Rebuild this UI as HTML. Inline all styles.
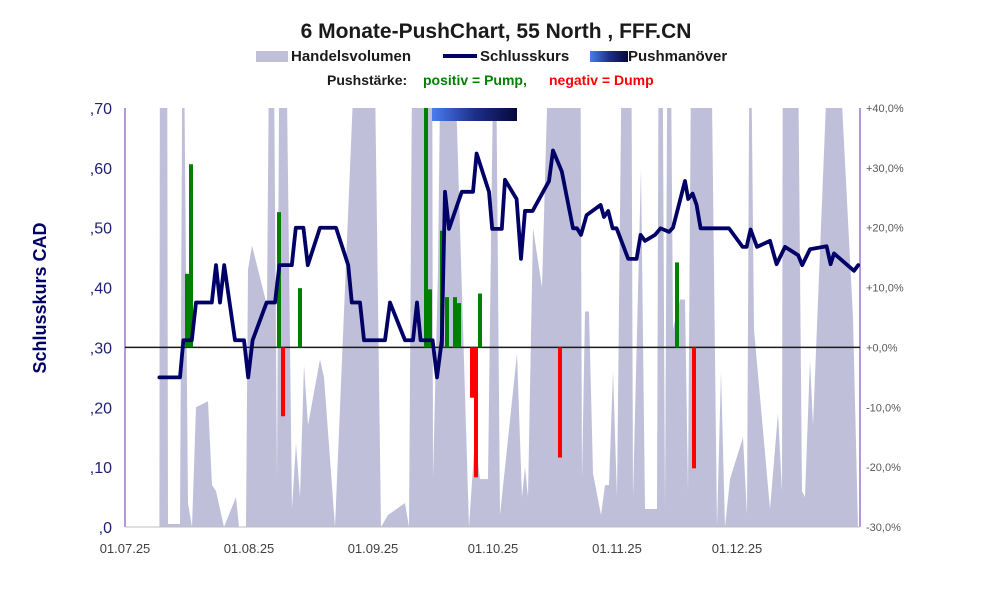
<!DOCTYPE html>
<html><head><meta charset="utf-8"><style>
body{margin:0;background:#fff;}
svg{display:block;font-family:"Liberation Sans",Arial,sans-serif;}
</style></head><body>
<svg id="chart" width="991" height="591" viewBox="0 0 991 591">
<defs>
<linearGradient id="pg" x1="0" x2="1" y1="0" y2="0"><stop offset="0" stop-color="#4a7cf0"/><stop offset="0.5" stop-color="#1e2f8a"/><stop offset="1" stop-color="#05083a"/></linearGradient>
<clipPath id="plotclip"><rect x="125" y="108" width="735" height="419"/></clipPath>
</defs>
<text x="496" y="38" text-anchor="middle" font-size="21" font-weight="bold" fill="#1a1a1a">6 Monate-PushChart, 55 North , FFF.CN</text>
<g>
<rect x="256" y="51" width="32" height="11" fill="#bfbfda"/>
<text x="291" y="61" font-size="15" font-weight="bold" fill="#1a1a1a">Handelsvolumen</text>
<rect x="443" y="54" width="34" height="4" fill="#000066"/>
<text x="480" y="61" font-size="15" font-weight="bold" fill="#1a1a1a">Schlusskurs</text>
<rect x="590" y="51" width="38" height="11" fill="url(#pg)"/>
<text x="628" y="61" font-size="15" font-weight="bold" fill="#1a1a1a">Pushmanöver</text>
<text x="327" y="85" font-size="14" font-weight="bold" fill="#1a1a1a">Pushstärke:</text>
<text x="423" y="85" font-size="14" font-weight="bold" fill="#008000">positiv = Pump,</text>
<text x="549" y="85" font-size="14" font-weight="bold" fill="#ff0000">negativ = Dump</text>
</g>
<text transform="translate(46,298) rotate(-90)" text-anchor="middle" font-size="18" font-weight="bold" fill="#000066">Schlusskurs CAD</text>
<g id="vol" clip-path="url(#plotclip)"></g>
<g id="axes"></g>
<g id="push"></g>
<g id="line" clip-path="url(#plotclip)"></g>
</svg>
<script>
const xTickLabels=["01.07.25","01.08.25","01.09.25","01.10.25","01.11.25","01.12.25"];
const xTickDays=[0,31,62,92,123,153];
const yTickValues=[0,0.1,0.2,0.3,0.4,0.5,0.6,0.7];
const yTickLabels=[",0",",10",",20",",30",",40",",50",",60",",70"];
const pctTickValues=[-30,-20,-10,0,10,20,30,40];
const pctTickLabels=["-30,0%","-20,0%","-10,0%","+0,0%","+10,0%","+20,0%","+30,0%","+40,0%"];
const priceDays=[8.6,13.75,14.6,16.7,17.75,21.7,22.75,23.75,24.8,27.5,29.75,30.8,31.9,35.4,37.5,38.6,41.7,42.7,44.6,45.7,48.75,52.75,55.8,56.7,58.75,59.75,65,66.25,70,72,73,73.9,76.9,78,79.2,80,81,84.2,87,87.9,91,91.8,94.2,95,97.9,99,100,101.9,106,107,109.2,112,113,114,115.4,118.9,119.75,120.8,121.9,122.9,125.8,127.9,128.9,130,132.5,133.9,136,137,140,140.8,141.9,142.9,143.9,151,154.4,155.4,156.4,158,161.25,162.9,165,168.3,169.3,171.25,175.4,176.4,177.25,182.25,183.3];
const priceValues=[0.25,0.25,0.312,0.312,0.375,0.375,0.4375,0.375,0.4375,0.312,0.312,0.25,0.312,0.375,0.375,0.4375,0.4375,0.5,0.5,0.4375,0.5,0.5,0.4375,0.375,0.375,0.312,0.312,0.375,0.312,0.312,0.375,0.312,0.312,0.25,0.312,0.56,0.498,0.56,0.56,0.624,0.56,0.498,0.498,0.58,0.548,0.448,0.528,0.528,0.578,0.629,0.594,0.499,0.499,0.488,0.521,0.538,0.518,0.528,0.499,0.499,0.448,0.448,0.488,0.478,0.488,0.499,0.493,0.5,0.578,0.548,0.557,0.538,0.499,0.499,0.468,0.468,0.497,0.468,0.478,0.439,0.468,0.454,0.4375,0.464,0.469,0.439,0.457,0.428,0.4375];
const volDays=[0,8.6,8.75,10.5,10.75,13.75,14.5,15.75,16.75,17.75,20.75,21.75,22.75,24.75,27.75,28.5,30.25,30.75,31.75,35.5,36.25,37,38,38.75,40,41.75,42.75,43.75,44.75,45.75,48.75,49.75,52.5,58.75,62,64,65.75,70,71,72,76.75,77,78.25,79.25,81.5,86,87.5,88.75,90.75,92.5,93.75,98,99.25,100,100.75,102,104.25,106.75,113.75,114.25,115,116,117,119,120,121,122,123,124.5,126.5,127,129,130,133,133.5,134.25,135,135.75,136.25,137,138.75,140,140.75,141.75,146.25,148,149,150,151.25,154.5,155.5,156.25,157.25,161.25,163.25,164.25,164.5,168,169.25,170,171.25,172,177,182,183.25];
const volValues=[0,0,1,1,0.005,0.005,1,0.04,0,0.2,0.21,0.07,0.06,0,0.05,0,0,0.43,0.47,0.37,1,1,0.08,1,1,0.03,0.14,0.05,0.27,0.17,0.28,0.25,0,1,1,0,0.02,0.04,0,1,1,0.08,0.43,1,1,0,0.15,0.08,0.08,1,0.02,0.29,0.05,0.1,0.05,0.5,0.4,1,1,0.08,0.36,0.36,0.09,0.02,0.07,0.07,0.26,0.05,1,1,0.05,0.6,0.03,0.03,1,1,0.03,1,1,0.33,0.38,0.38,0.06,1,1,0,0.26,0,0.08,0.15,0.02,1,0.33,0.03,0.19,0.06,1,1,0.06,0.05,0.28,0.17,1,0.35,0];
const pushDays=[15,16,38,39,43.25,74.75,75.75,78.75,80,82,83,86.25,87.25,88.25,108.25,137.5,141.75];
const pushValues=[12.3,30.6,22.6,-11.5,9.9,45,9.7,19.5,8.4,8.4,7.4,-8.4,-21.7,9,-18.4,14.2,-20.2];
const pushManoeverStart=76.75, pushManoeverEnd=98;

const NS="http://www.w3.org/2000/svg";
const X0=125,X1=860,Y0=527,Y1=108;
const xScale=d=>X0+d*4.0;
const yScale=v=>Y0-(v/0.7)*(Y0-Y1);
const pScale=p=>Y0-((p+30)/70)*(Y0-Y1);
function mk(tag,attrs,parent){const e=document.createElementNS(NS,tag);for(const k in attrs)e.setAttribute(k,attrs[k]);parent.appendChild(e);return e;}

const vol=document.getElementById('vol');
let pts=volDays.map((d,i)=>xScale(d)+','+yScale(volValues[i])).join(' ');
pts=xScale(volDays[0])+','+Y0+' '+pts+' '+xScale(volDays[volDays.length-1])+','+Y0;
const vp=mk('polygon',{points:pts,fill:'#bfbfda'},vol);



const ax=document.getElementById('axes');
const l1=mk('line',{x1:X0,y1:Y1,x2:X0,y2:Y0,stroke:'#6a2fb0','stroke-width':1},ax);


const l2=mk('line',{x1:X1,y1:Y1,x2:X1,y2:Y0,stroke:'#6a2fb0','stroke-width':1},ax);


const l3=mk('line',{x1:X0,y1:Y0,x2:X1,y2:Y0,stroke:'#bfbfbf','stroke-width':1},ax);


yTickValues.forEach((v,i)=>{
  const t=mk('text',{x:112,y:yScale(v)+6,'text-anchor':'end','font-size':16,fill:'#1f1f6e'},ax);
  t.textContent=yTickLabels[i];
  
  
});
pctTickValues.forEach((p,i)=>{
  const t=mk('text',{x:866,y:pScale(p)+4,'font-size':11,fill:'#595959'},ax);
  t.textContent=pctTickLabels[i];
  
  
});
xTickDays.forEach((d,i)=>{
  const t=mk('text',{x:xScale(d),y:553,'text-anchor':'middle','font-size':13,fill:'#404040'},ax);
  t.textContent=xTickLabels[i];
  
  
});
const zl=mk('line',{x1:X0,y1:pScale(0),x2:X1,y2:pScale(0),stroke:'#1a1a1a','stroke-width':1.5},ax);



const pg=document.getElementById('push');
pushDays.forEach((d,i)=>{
  const v=Math.min(pushValues[i],40);
  const y=pScale(Math.max(v,0)), h=Math.abs(pScale(v)-pScale(0));
  const r=mk('rect',{x:xScale(d),y:y,width:4,height:h,fill:pushValues[i]>=0?'#008000':'#ff0000'},pg);
  
  
});
const pm=mk('rect',{x:xScale(pushManoeverStart),y:108,width:xScale(pushManoeverEnd)-xScale(pushManoeverStart),height:13,fill:'url(#pg)'},pg);



const lg=document.getElementById('line');
const pl=mk('polyline',{points:priceDays.map((d,i)=>xScale(d)+','+yScale(priceValues[i])).join(' '),fill:'none',stroke:'#000066','stroke-width':3.8,'stroke-linejoin':'round','stroke-linecap':'round'},lg);


</script>
</body></html>
